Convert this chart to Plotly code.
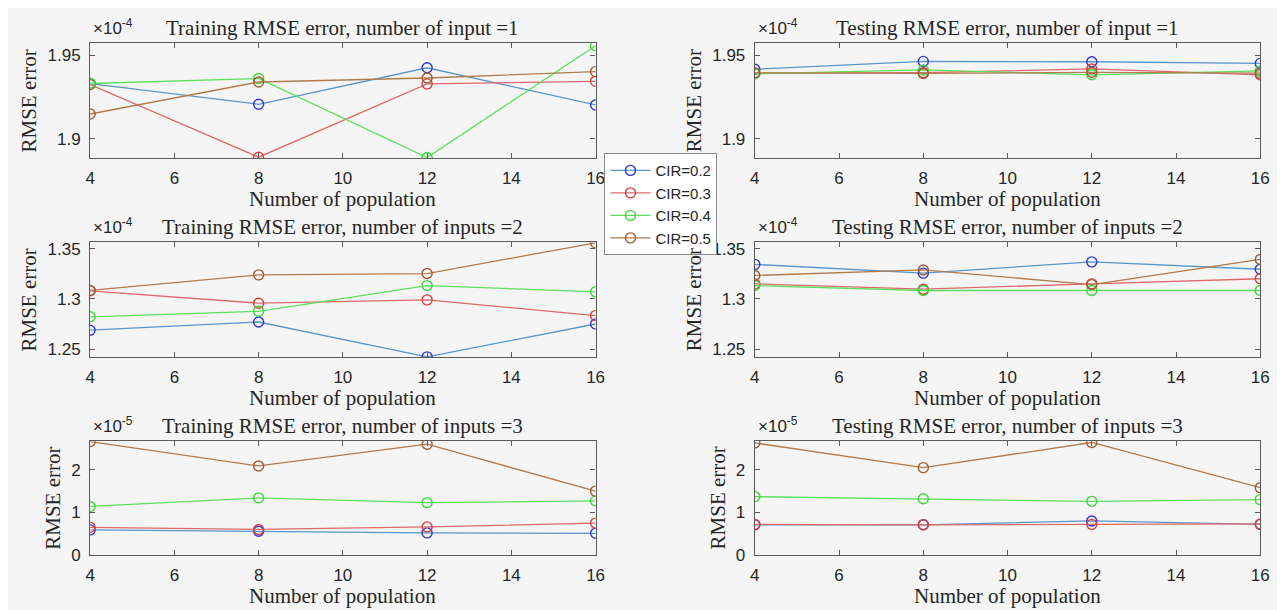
import plotly.graph_objects as go

# ---------------- data ----------------
population = [4, 8, 12, 16]
series_names = ["CIR=0.2", "CIR=0.3", "CIR=0.4", "CIR=0.5"]

# Training, 1 input (x1e-4)
train1_cir02 = [1.9330, 1.9206, 1.9424, 1.9202]
train1_cir03 = [1.9324, 1.8890, 1.9328, 1.9343]
train1_cir04 = [1.9330, 1.9360, 1.8888, 1.9556]
train1_cir05 = [1.9148, 1.9339, 1.9363, 1.9401]
# Testing, 1 input (x1e-4)
test1_cir02 = [1.9415, 1.9462, 1.9460, 1.9450]
test1_cir03 = [1.9392, 1.9395, 1.9417, 1.9382]
test1_cir04 = [1.9388, 1.9411, 1.9382, 1.9405]
test1_cir05 = [1.9394, 1.9390, 1.9397, 1.9392]
# Training, 2 inputs (x1e-4)
train2_cir02 = [1.2688, 1.2770, 1.2422, 1.2750]
train2_cir03 = [1.3082, 1.2958, 1.2991, 1.2834]
train2_cir04 = [1.2822, 1.2877, 1.3134, 1.3072]
train2_cir05 = [1.3085, 1.3241, 1.3254, 1.3561]
# Testing, 2 inputs (x1e-4)
test2_cir02 = [1.3346, 1.3258, 1.3371, 1.3297]
test2_cir03 = [1.3151, 1.3098, 1.3151, 1.3202]
test2_cir04 = [1.3134, 1.3085, 1.3085, 1.3085]
test2_cir05 = [1.3235, 1.3290, 1.3144, 1.3395]
# Training, 3 inputs (x1e-5)
train3_cir02 = [0.59, 0.56, 0.52, 0.51]
train3_cir03 = [0.65, 0.60, 0.66, 0.75]
train3_cir04 = [1.14, 1.34, 1.23, 1.27]
train3_cir05 = [2.66, 2.09, 2.60, 1.50]
# Testing, 3 inputs (x1e-5)
test3_cir02 = [0.71, 0.71, 0.80, 0.72]
test3_cir03 = [0.72, 0.71, 0.72, 0.73]
test3_cir04 = [1.37, 1.32, 1.26, 1.30]
test3_cir05 = [2.63, 2.05, 2.64, 1.58]

x_ticks = [4, 6, 8, 10, 12, 14, 16]
y_ticks_row1 = [1.9, 1.95]
y_ticks_row2 = [1.25, 1.3, 1.35]
y_ticks_row3 = [0, 1, 2]
y_ticktext_row1 = ["1.9", "1.95"]
y_ticktext_row2 = ["1.25", "1.3", "1.35"]
y_ticktext_row3 = ["0", "1", "2"]
exponents = ["-4", "-4", "-5"]

titles = [
    ["Training RMSE error, number of input =1", "Testing RMSE error, number of input =1"],
    ["Training RMSE error, number of inputs =2", "Testing RMSE error, number of inputs =2"],
    ["Training RMSE error, number of inputs =3", "Testing RMSE error, number of inputs =3"],
]

panels = [
    [[train1_cir02, train1_cir03, train1_cir04, train1_cir05],
     [test1_cir02, test1_cir03, test1_cir04, test1_cir05]],
    [[train2_cir02, train2_cir03, train2_cir04, train2_cir05],
     [test2_cir02, test2_cir03, test2_cir04, test2_cir05]],
    [[train3_cir02, train3_cir03, train3_cir04, train3_cir05],
     [test3_cir02, test3_cir03, test3_cir04, test3_cir05]],
]

# ---------------- styling ----------------
W, H = 1285, 610
line_colors = ["#5796cc", "#dc6a6a", "#5ce05c", "#b37a4a"]
marker_colors = ["#3434d4", "#d84040", "#3cd83c", "#a05c36"]
bg = "#f5f5f5"
axis_col = "#5a5a5a"
text_col = "#262626"
serif = "Liberation Serif"
sans = "Liberation Sans"

col_px = [(78, 589), (750, 1261)]
row_px = [(34, 151), (237, 354), (440, 556)]
y_ranges = [[1.8885, 1.9570], [1.2420, 1.3566], [0, 2.667]]
y_tv = [y_ticks_row1, y_ticks_row2, y_ticks_row3]
y_tt = [y_ticktext_row1, y_ticktext_row2, y_ticktext_row3]

fig = go.Figure()
annotations = []

def px_x(p):
    return p / W

def px_y(p):
    return 1 - p / H

idx = 0
for r in range(3):
    for c in range(2):
        idx += 1
        xa = "x" if idx == 1 else f"x{idx}"
        ya = "y" if idx == 1 else f"y{idx}"
        xkey = "xaxis" if idx == 1 else f"xaxis{idx}"
        ykey = "yaxis" if idx == 1 else f"yaxis{idx}"
        for s in range(4):
            fig.add_trace(go.Scatter(
                x=population, y=panels[r][c][s], xaxis=xa, yaxis=ya,
                mode="lines+markers", name=series_names[s],
                legendgroup=series_names[s], showlegend=(idx == 1),
                line=dict(color=line_colors[s], width=1.3),
                marker=dict(symbol="circle-open", size=10,
                            color=marker_colors[s],
                            line=dict(color=marker_colors[s], width=1.4)),
            ))
        x0, x1 = col_px[c]
        y0, y1 = row_px[r]
        common = dict(showline=True, linecolor=axis_col, linewidth=1.2, mirror="ticks",
                      ticks="inside", ticklen=5, tickcolor=axis_col, showgrid=False,
                      zeroline=False, tickfont=dict(family=sans, size=17, color=text_col))
        fig.layout[xkey] = dict(domain=[px_x(x0), px_x(x1)], anchor=ya, range=[4, 16],
                                tickvals=x_ticks, ticklabelstandoff=4, **common)
        fig.layout[ykey] = dict(domain=[px_y(y1), px_y(y0)], anchor=xa, range=y_ranges[r],
                                tickvals=y_tv[r], ticktext=y_tt[r], ticklabelstandoff=5,
                                **common)
        cx = (x0 + x1) / 2
        # subplot title
        annotations.append(dict(text=titles[r][c], x=px_x(cx), y=px_y(y0 - 16),
                                xref="paper", yref="paper", showarrow=False,
                                xanchor="center", yanchor="middle",
                                font=dict(family=serif, size=21, color=text_col)))
        # x label
        annotations.append(dict(text="Number of population", x=px_x(cx), y=px_y(y1 + 42),
                                xref="paper", yref="paper", showarrow=False,
                                xanchor="center", yanchor="middle",
                                font=dict(family=serif, size=21, color=text_col)))
        # y label
        off = 37 if r == 2 else 62
        annotations.append(dict(text="RMSE error", x=px_x(x0 - off), y=px_y((y0 + y1) / 2),
                                xref="paper", yref="paper", showarrow=False, textangle=-90,
                                xanchor="center", yanchor="middle",
                                font=dict(family=serif, size=21, color=text_col)))
        # exponent
        annotations.append(dict(text="×10<sup>" + exponents[r] + "</sup>", x=px_x(x0 + 1),
                                y=px_y(y0 - 3), xref="paper", yref="paper", showarrow=False,
                                xanchor="left", yanchor="bottom",
                                font=dict(family=sans, size=17, color=text_col)))

fig.update_layout(
    width=W, height=H, margin=dict(l=0, r=0, t=0, b=0),
    paper_bgcolor=bg, plot_bgcolor=bg,
    annotations=annotations,
    showlegend=True,
    legend=dict(x=598 / W, y=1 - 146 / H, xanchor="left", yanchor="top",
                bgcolor="#ffffff", bordercolor="#8a8a8a", borderwidth=1,
                font=dict(family=sans, size=15, color=text_col),
                itemwidth=40, tracegroupgap=0, entrywidth=0),
)

fig.write_html("out.html")
